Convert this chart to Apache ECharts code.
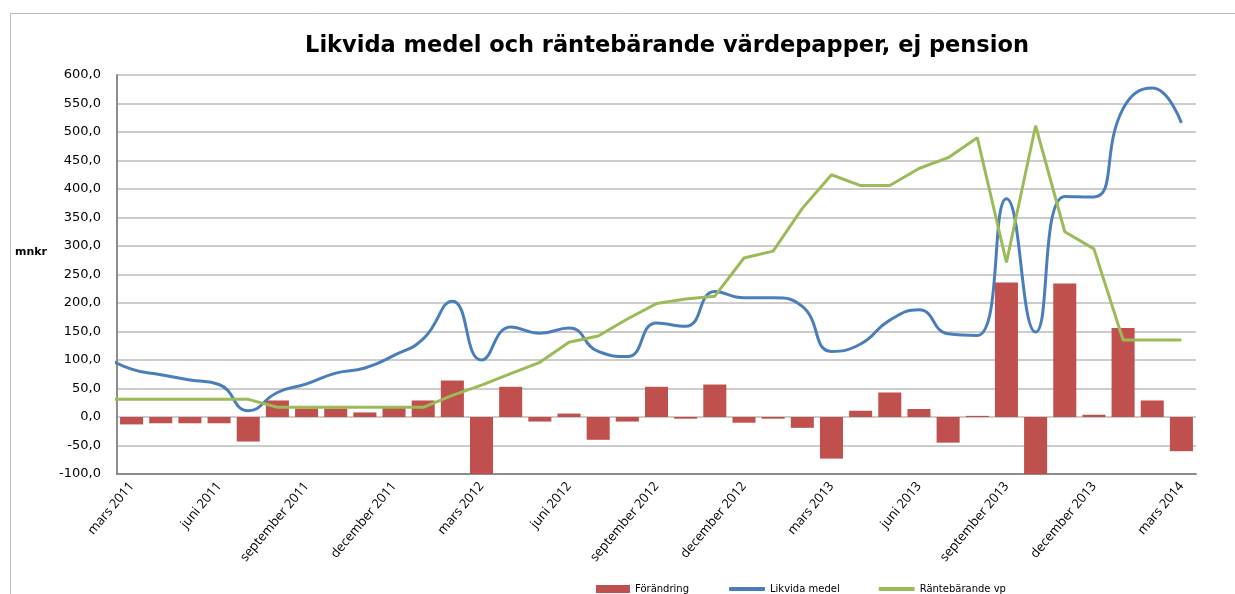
<!DOCTYPE html>
<html>
<head>
<meta charset="utf-8">
<script src="https://cdn.jsdelivr.net/npm/echarts@6/dist/echarts.min.js"></script>
<style>
  html, body { margin: 0; padding: 0; background: #fff; }
  #chart { width: 1235px; height: 594px; }
</style>
</head>
<body>
<div id="chart"></div>
<script>
// kategorier, en per månad mars 2011 - mars 2014
var months = ['mars 2011', 'april 2011', 'maj 2011', 'juni 2011', 'juli 2011', 'augusti 2011',
  'september 2011', 'oktober 2011', 'november 2011', 'december 2011', 'januari 2012', 'februari 2012',
  'mars 2012', 'april 2012', 'maj 2012', 'juni 2012', 'juli 2012', 'augusti 2012',
  'september 2012', 'oktober 2012', 'november 2012', 'december 2012', 'januari 2013', 'februari 2013',
  'mars 2013', 'april 2013', 'maj 2013', 'juni 2013', 'juli 2013', 'augusti 2013',
  'september 2013', 'oktober 2013', 'november 2013', 'december 2013', 'januari 2014', 'februari 2014',
  'mars 2014'];

var forandring = [-13, -11, -11, -11, -43, 29, 15, 15, 8, 17, 29, 64,
  -100, 53, -8, 6, -40, -8, 53, -3, 57, -10, -3, -19,
  -73, 11, 43, 14, -45, 2, 236, -100, 234, 4, 156, 29,
  -60];

// linjerna har en punkt till, februari 2011, som hamnar utanför diagrammet
var likvidaMedel = [108,
  84, 74, 65, 57, 11, 43, 58, 77, 86, 108, 137, 203,
  100, 158, 147, 156, 115, 106, 165, 159, 220, 209, 209, 194,
  115, 128, 170, 188, 146, 143, 383, 149, 387, 386, 541, 577,
  516];

var rantebarande = [31,
  31, 31, 31, 31, 31, 17, 17, 17, 17, 17, 17, 38,
  56, 76, 96, 131, 142, 172, 199, 207, 212, 279, 291, 366,
  425, 406, 406, 436, 455, 490, 271, 511, 325, 295, 135, 135,
  135];

var yTicks = [-100, 600, 50];

var myChart = echarts.init(document.getElementById('chart'));

var legendText = { fontFamily: 'DejaVu Sans', fontSize: 10, color: '#000' };

myChart.setOption({
  animation: false,
  title: {
    text: 'Likvida medel och räntebärande värdepapper, ej pension',
    left: 662,
    textAlign: 'center',
    top: 30,
    textStyle: {
      fontFamily: 'DejaVu Sans',
      fontWeight: 'bold',
      fontSize: 22.5,
      color: '#000'
    }
  },
  graphic: [
    {
      type: 'rect',
      shape: { x: 10.5, y: 13.5, width: 1300, height: 700 },
      style: { fill: 'none', stroke: '#bdbdbd', lineWidth: 1 },
      silent: true
    },
    {
      type: 'text',
      left: 15,
      top: 247,
      style: { text: 'mnkr', fontFamily: 'DejaVu Sans', fontWeight: 'bold', fontSize: 11, fill: '#000' }
    }
  ],
  legend: [
    {
      left: 591,
      top: 579,
      itemWidth: 34,
      itemHeight: 8,
      textStyle: legendText,
      data: [{ name: 'Förändring', icon: 'rect' }]
    },
    {
      left: 724,
      top: 579,
      itemWidth: 36,
      itemHeight: 4,
      itemGap: 39,
      textStyle: legendText,
      data: [
        { name: 'Likvida medel', icon: 'roundRect' },
        { name: 'Räntebärande vp', icon: 'roundRect' }
      ]
    }
  ],
  grid: { left: 117, right: 39, top: 75, bottom: 120 },
  xAxis: [
    {
      type: 'category',
      data: months,
      axisLine: { onZero: false, lineStyle: { color: '#8c8c8c', width: 2 } },
      axisTick: { show: false },
      axisLabel: {
        interval: 2,
        rotate: 50,
        margin: 10,
        fontFamily: 'Open Sans',
        fontSize: 13,
        color: '#000'
      }
    },
    {
      type: 'value',
      min: -0.5,
      max: 36.5,
      show: false
    }
  ],
  yAxis: {
    type: 'value',
    min: yTicks[0],
    max: yTicks[1],
    interval: yTicks[2],
    axisLine: { show: true, onZero: false, lineStyle: { color: '#8c8c8c', width: 2 } },
    axisTick: { show: false },
    splitLine: { lineStyle: { color: '#bbbbbb', width: 1.5 } },
    axisLabel: {
      margin: 16,
      fontFamily: 'DejaVu Sans',
      fontSize: 13,
      color: '#000',
      formatter: function (v) { return v.toFixed(1).replace('.', ','); }
    }
  },
  series: [
    {
      name: 'Förändring',
      type: 'bar',
      barCategoryGap: '21%',
      clip: true,
      itemStyle: { color: '#c0504d' },
      data: forandring
    },
    {
      name: 'Likvida medel',
      type: 'line',
      xAxisIndex: 1,
      smooth: 0.5,
      symbol: 'none',
      clip: true,
      lineStyle: { color: '#4a7ebb', width: 3 },
      itemStyle: { color: '#4a7ebb' },
      data: likvidaMedel.map(function (v, i) { return [i - 1, v]; })
    },
    {
      name: 'Räntebärande vp',
      type: 'line',
      xAxisIndex: 1,
      symbol: 'none',
      clip: true,
      lineStyle: { color: '#9bbb59', width: 3 },
      itemStyle: { color: '#9bbb59' },
      data: rantebarande.map(function (v, i) { return [i - 1, v]; })
    }
  ]
});
</script>
</body>
</html>
